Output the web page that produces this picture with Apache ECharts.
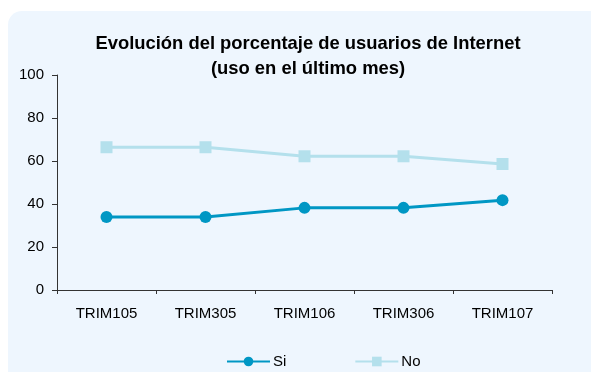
<!DOCTYPE html>
<html>
<head>
<meta charset="utf-8">
<script src="https://cdn.jsdelivr.net/npm/echarts@6/dist/echarts.min.js"></script>
<style>
  html, body { margin: 0; padding: 0; background: #ffffff; }
  #chart { width: 591px; height: 372px; }
</style>
</head>
<body>
<div id="chart"></div>
<script>
// Quarterly periods
const categories = ['TRIM105', 'TRIM305', 'TRIM106', 'TRIM306', 'TRIM107'];
// Share of people who used the Internet in the last month (%)
const siValues = [34, 34, 38.2, 38.2, 41.8];
const noValues = [66.4, 66.4, 62.2, 62.2, 58.6];
const yTicks = { min: 0, max: 100, step: 20 };

const font = 'Liberation Sans, Arial, sans-serif';
const chart = echarts.init(document.getElementById('chart'), null, { renderer: 'canvas' });

chart.setOption({
  animation: false,
  backgroundColor: '#ffffff',
  graphic: [{
    type: 'rect',
    z: -10,
    shape: { x: 8, y: 11, width: 620, height: 400, r: [14, 0, 0, 0] },
    style: { fill: '#EEF6FE' },
    silent: true
  }],
  title: {
    text: 'Evolución del porcentaje de usuarios de Internet\n(uso en el último mes)',
    left: 303,
    textAlign: 'center',
    top: 26,
    padding: [5, 5, 5, 5],
    textStyle: {
      fontFamily: font, fontSize: 18.4, fontWeight: 'bold', color: '#000', lineHeight: 25
    }
  },
  legend: {
    data: ['Si', 'No'],
    left: 221,
    top: 349,
    itemWidth: 43,
    itemHeight: 12,
    itemGap: 68,
    textStyle: { fontFamily: font, fontSize: 15, color: '#000', padding: [0, 0, 0, -2] }
  },
  grid: { left: 57, right: 39, top: 75, bottom: 82, containLabel: false },
  xAxis: {
    type: 'category',
    data: categories,
    boundaryGap: true,
    axisLine: { lineStyle: { color: '#333', width: 1 } },
    axisTick: { show: true, length: 4, lineStyle: { color: '#333' } },
    axisLabel: { fontFamily: font, fontSize: 15, color: '#000', margin: 16 }
  },
  yAxis: {
    type: 'value',
    min: yTicks.min,
    max: yTicks.max,
    interval: yTicks.step,
    splitLine: { show: false },
    axisLine: { show: true, lineStyle: { color: '#333', width: 1 } },
    axisTick: { show: true, length: 5, lineStyle: { color: '#333' } },
    axisLabel: { fontFamily: font, fontSize: 15, color: '#000', margin: 13 }
  },
  series: [
    {
      name: 'Si',
      type: 'line',
      data: siValues,
      symbol: 'circle',
      symbolSize: 12,
      color: '#0097C4',
      lineStyle: { width: 3, color: '#0097C4' },
      itemStyle: { color: '#0097C4' },
      z: 3
    },
    {
      name: 'No',
      type: 'line',
      data: noValues,
      symbol: 'rect',
      symbolSize: 12,
      color: '#B4E0EC',
      lineStyle: { width: 3, color: '#B4E0EC' },
      itemStyle: { color: '#B4E0EC' },
      z: 2
    }
  ]
});
</script>
</body>
</html>
